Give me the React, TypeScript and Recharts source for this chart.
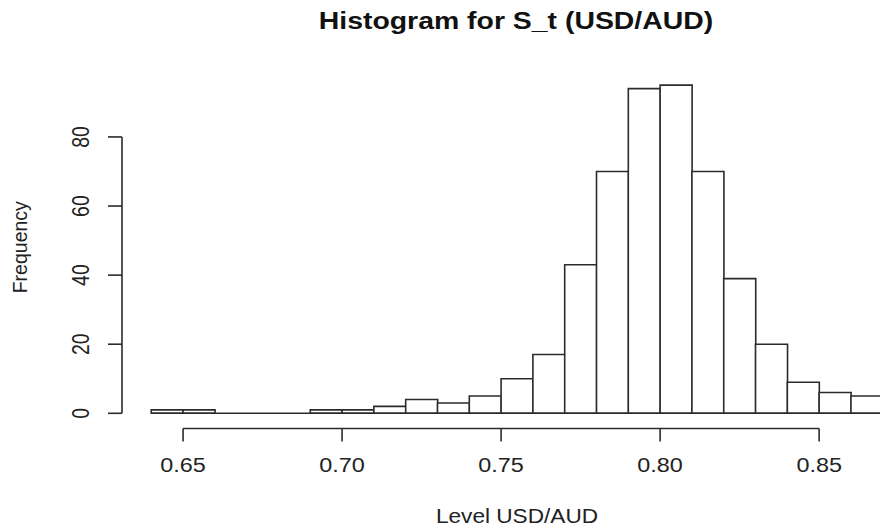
import { ComposedChart, Bar, XAxis, YAxis, ReferenceLine } from 'recharts'

// bin left edges (width 0.01) and counts
const binStarts = [
  0.64, 0.65, 0.66, 0.67, 0.68, 0.69, 0.7, 0.71, 0.72, 0.73, 0.74, 0.75,
  0.76, 0.77, 0.78, 0.79, 0.8, 0.81, 0.82, 0.83, 0.84, 0.85, 0.86,
]
const binWidth = 0.01
const counts = [1, 1, 0, 0, 0, 1, 1, 2, 4, 3, 5, 10, 17, 43, 70, 94, 95, 70, 39, 20, 9, 6, 5]
const xTicks = [0.65, 0.7, 0.75, 0.8, 0.85]
const yTicks = [0, 20, 40, 60, 80]

// R-style plot region: 4% extension of the data range on each side
const xDomain = [0.6308, 0.8792]
const yDomain = [-4.4, 98.8]

const data = binStarts.map((start, i) => ({
  mid: start + binWidth / 2,
  count: counts[i],
}))

const FONT = '"Liberation Sans", Arial, sans-serif'
const INK = '#222'
const LINE = '#2b2b2b'

const XTick = (props: any) => {
  const { x, y, payload } = props
  return (
    <text
      transform={`translate(${x},${y + 30.5}) scale(1.2,1)`}
      textAnchor="middle"
      fontSize={19.5}
      fontFamily={FONT}
      fill={INK}
    >
      {Number(payload.value).toFixed(2)}
    </text>
  )
}

const YTick = (props: any) => {
  const { x, y, payload } = props
  return (
    <text
      transform={`translate(${x},${y}) scale(1.22,1) rotate(-90)`}
      textAnchor="middle"
      fontSize={19.5}
      fontFamily={FONT}
      fill={INK}
    >
      {payload.value}
    </text>
  )
}

const XLabel = (props: any) => {
  const vb = props.viewBox
  return (
    <text
      transform={`translate(${vb.x + vb.width / 2},${vb.y + 94.5}) scale(1.16,1)`}
      textAnchor="middle"
      fontSize={19.5}
      fontFamily={FONT}
      fill={INK}
    >
      Level USD/AUD
    </text>
  )
}

const YLabel = (props: any) => {
  const vb = props.viewBox
  return (
    <text
      transform={`translate(${vb.x + 27},${vb.y + vb.height / 2 - 3}) rotate(-90)`}
      textAnchor="middle"
      fontSize={19.5}
      fontFamily={FONT}
      fill={INK}
    >
      Frequency
    </text>
  )
}

export default function App() {
  return (
    <div
      style={{
        position: 'absolute',
        left: 0,
        top: 0,
        width: 880,
        height: 532,
        overflow: 'hidden',
        background: '#fff',
      }}
    >
      <ComposedChart
        width={912}
        height={532}
        data={data}
        margin={{ top: 72, right: 0, bottom: 0, left: 0 }}
        barCategoryGap={0}
        barGap={0}
      >
        <XAxis
          dataKey="mid"
          type="number"
          domain={xDomain}
          ticks={xTicks}
          interval={0}
          height={103.5}
          axisLine={false}
          tickLine={{ stroke: LINE, strokeWidth: 1.6 }}
          tickSize={13}
          tickMargin={0}
          tick={<XTick />}
          label={<XLabel />}
        />
        <YAxis
          type="number"
          domain={yDomain}
          ticks={yTicks}
          interval={0}
          width={122}
          axisLine={false}
          tickLine={{ stroke: LINE, strokeWidth: 1.6 }}
          tickSize={14}
          tickMargin={19}
          tick={<YTick />}
          label={<YLabel />}
        />
        <Bar
          dataKey="count"
          fill="#fff"
          stroke={LINE}
          strokeWidth={1.6}
          isAnimationActive={false}
        />
        {/* baseline under every bin, incl. the empty ones */}
        <ReferenceLine
          segment={[
            { x: binStarts[0], y: 0 },
            { x: binStarts[binStarts.length - 1] + binWidth, y: 0 },
          ]}
          stroke={LINE}
          strokeWidth={1.6}
          ifOverflow="visible"
        />
        {/* R draws axis lines only between the first and last tick */}
        <ReferenceLine
          segment={[
            { x: xTicks[0], y: yDomain[0] },
            { x: xTicks[xTicks.length - 1], y: yDomain[0] },
          ]}
          stroke={LINE}
          strokeWidth={1.6}
          ifOverflow="visible"
        />
        <ReferenceLine
          segment={[
            { x: xDomain[0], y: yTicks[0] },
            { x: xDomain[0], y: yTicks[yTicks.length - 1] },
          ]}
          stroke={LINE}
          strokeWidth={1.6}
          ifOverflow="visible"
        />
      </ComposedChart>
      <svg
        width={880}
        height={532}
        style={{ position: 'absolute', left: 0, top: 0, pointerEvents: 'none' }}
      >
        <text
          transform="translate(516,29) scale(1.22,1)"
          textAnchor="middle"
          fontSize={23.3}
          fontWeight="bold"
          fontFamily={FONT}
          fill="#111"
        >
          Histogram for S_t (USD/AUD)
        </text>
      </svg>
    </div>
  )
}
